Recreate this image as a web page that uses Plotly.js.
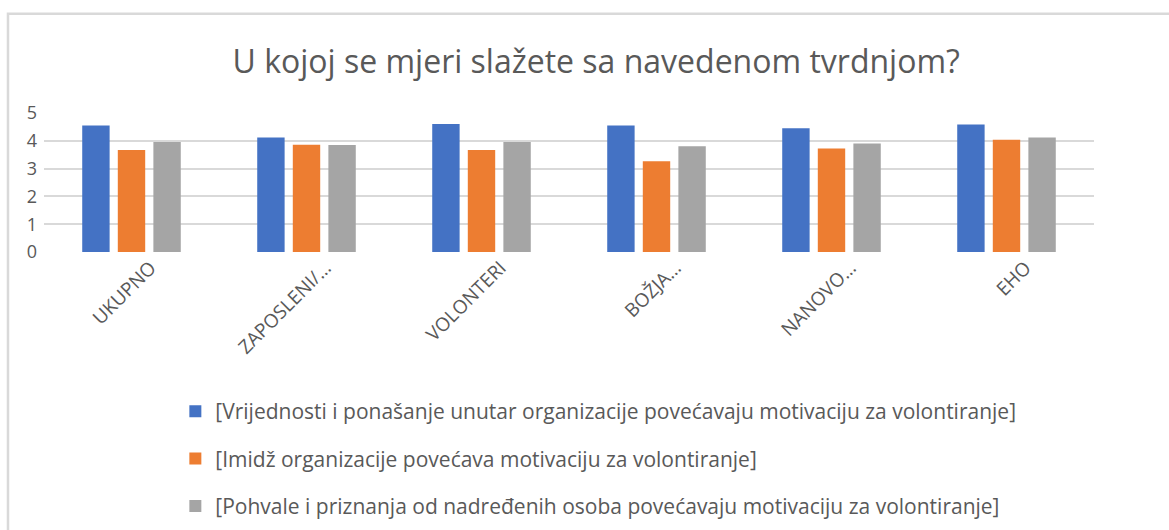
<!DOCTYPE html>
<html>
<head>
<meta charset="utf-8">
<script src="https://cdn.plot.ly/plotly-3.0.1.min.js"></script>
<style>
html,body{margin:0;padding:0;background:#fff;}
#chart{width:1169px;height:530px;}
</style>
</head>
<body>
<div id="chart"></div>
<script>
const categories = ["UKUPNO", "ZAPOSLENI/…", "VOLONTERI", "BOŽJA…", "NANOVO…", "EHO"];
const seriesNames = [
  "[Vrijednosti i ponašanje unutar organizacije povećavaju motivaciju za volontiranje]",
  "[Imidž organizacije povećava motivaciju za volontiranje]",
  "[Pohvale i priznanja od nadređenih osoba povećavaju motivaciju za volontiranje]"
];
const vrijednosti = [4.55, 4.12, 4.60, 4.55, 4.45, 4.59];
const imidz = [3.67, 3.86, 3.67, 3.26, 3.72, 4.04];
const pohvale = [3.96, 3.85, 3.96, 3.80, 3.90, 4.12];
const yTicks = [0, 1, 2, 3, 4, 5];
const colors = ["#4472C4", "#ED7D31", "#A5A5A5"];

const FONT = "'Open Sans', sans-serif";
const values = [vrijednosti, imidz, pohvale];
const traces = values.map((v, i) => ({
  type: "bar",
  x: categories,
  y: v,
  name: seriesNames[i],
  legendgroup: "g" + i,
  marker: {color: colors[i]},
  hoverinfo: "y"
}));

const layout = {
  width: 1169, height: 530,
  margin: {l: 44, r: 75, t: 113, b: 278, autoexpand: false},
  paper_bgcolor: "#fff", plot_bgcolor: "#fff",
  font: {family: FONT, color: "#595959"},
  title: {
    text: "U kojoj se mjeri slažete sa navedenom tvrdnjom?",
    font: {size: 32, color: "#595959", family: FONT},
    x: 0.51, xanchor: "center", xref: "container",
    y: 0.883, yanchor: "middle", yref: "container"
  },
  barmode: "group",
  bargap: 0.39,
  bargroupgap: 0.23,
  xaxis: {
    type: "category",
    tickangle: -45,
    tickfont: {size: 19, color: "#595959", family: FONT},
    showgrid: false, zeroline: false, showline: false,
    ticks: "", ticklen: 0,
    ticklabelstandoff: 0,
    ticklabelshift: 19,
    automargin: false
  },
  yaxis: {
    range: [0, 5],
    tickvals: yTicks,
    ticktext: yTicks.map(String),
    tickfont: {size: 18, color: "#595959", family: FONT},
    showgrid: true, gridcolor: "#D9D9D9", gridwidth: 2,
    zeroline: false, showline: false, ticks: "",
    ticklabelstandoff: 6,
    automargin: false
  },
  showlegend: true,
  legend: {
    orientation: "v",
    xref: "container", yref: "container",
    x: 0.150, xanchor: "left",
    y: 0.262, yanchor: "top",
    font: {size: 21, color: "#595959", family: FONT},
    tracegroupgap: 17,
    itemwidth: 30,
    bgcolor: "rgba(0,0,0,0)"
  },
  shapes: [{
    type: "path", xref: "paper", yref: "paper",
    path: "M -0.0343,-2.05 L -0.0343,1.714 L 1.08,1.714",
    line: {color: "#D9D9D9", width: 2.5}
  }]
};

Plotly.newPlot("chart", traces, layout, {displayModeBar: false, staticPlot: true});
</script>
</body>
</html>
